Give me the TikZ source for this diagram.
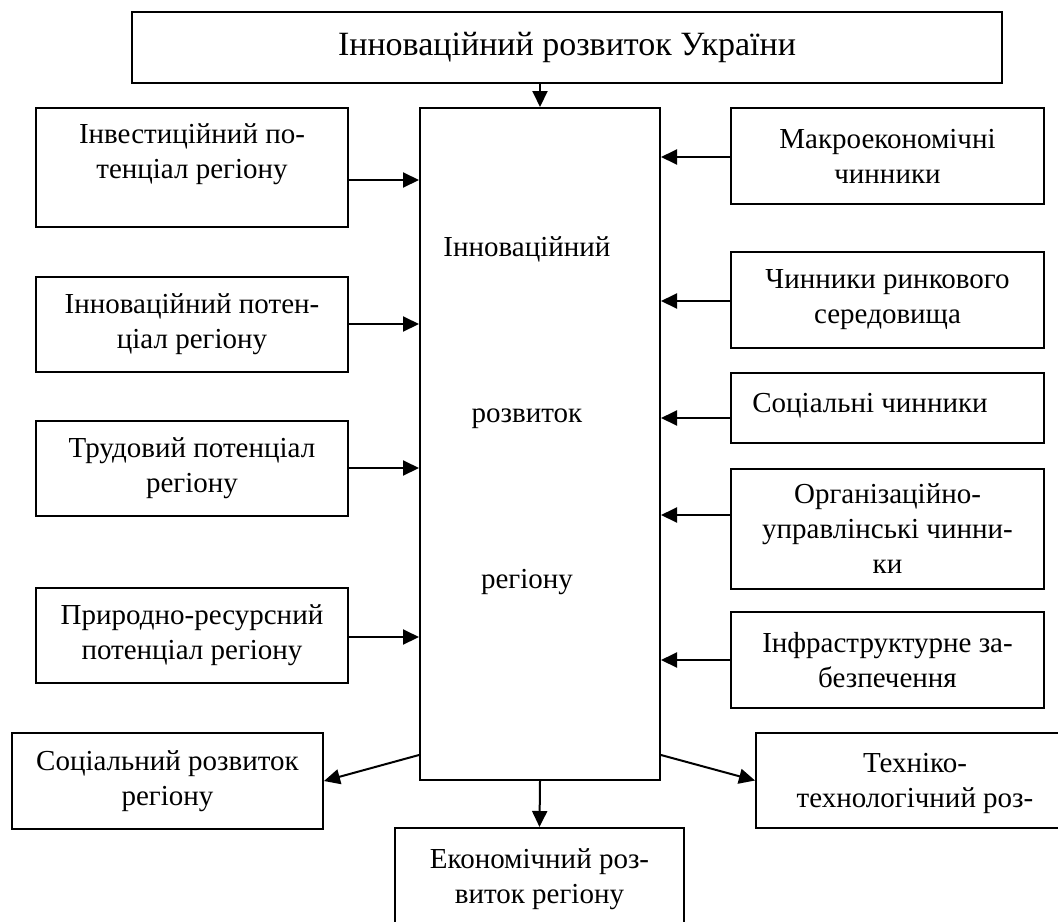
\documentclass[tikz,border=0pt]{standalone}
\usepackage{fontspec}
\setmainfont{Liberation Serif}
\usetikzlibrary{arrows.meta}
\tikzset{
	blok/.style={draw, line width=1pt, align=center, inner sep=0pt},
	arr/.style={-{Triangle[length=8pt,width=7.5pt]}, line width=1pt}
}

\begin{document}
\begin{tikzpicture}[x=0.5pt, y=-0.5pt, font=\fontsize{14.5}{17.5}\selectfont]
	\useasboundingbox (0,0) rectangle (1058,921);
	%
	\node[blok, minimum width=435pt, minimum height=35.5pt, font=\fontsize{17}{20}\selectfont] at (567,47.5) (ukr) {Інноваційний розвиток України};
	\node[blok, minimum width=120pt, minimum height=336pt] at (540,444) (centre) {};
	\node[align=center, font=\fontsize{14.5}{83}\selectfont] at (527,416) (centretxt) {Інноваційний\\розвиток\\регіону};
	%
	%left boxes
	\node[blok, minimum width=156pt, minimum height=59.5pt] at (192,167.5) (invest) {};
	\node[align=center] at (192,154) (investtxt) {Інвестиційний по-\\тенціал регіону};
	\node[blok, minimum width=156pt, minimum height=47.5pt] at (192,324.5) (innov) {Інноваційний потен-\\ціал регіону};
	\node[blok, minimum width=156pt, minimum height=47.5pt] at (192,468.5) (trud) {Трудовий потенціал\\регіону};
	\node[blok, minimum width=156pt, minimum height=47.5pt] at (192,635.5) (pryrod) {Природно-ресурсний\\потенціал регіону};
	%
	%right boxes
	\node[blok, minimum width=156.5pt, minimum height=48pt] at (887.5,156) (makro) {Макроекономічні\\чинники};
	\node[blok, minimum width=156.5pt, minimum height=48pt] at (887.5,300) (rynok) {Чинники ринкового\\середовища};
	\node[blok, minimum width=156.5pt, minimum height=35pt] at (887.5,408) (social) {};
	\node at (870,406) (socialtxt) {Соціальні чинники};
	\node[blok, minimum width=156.5pt, minimum height=60pt] at (887.5,529) (org) {Організаційно-\\управлінські чинни-\\ки};
	\node[blok, minimum width=156.5pt, minimum height=48pt] at (887.5,660) (infra) {Інфраструктурне за-\\безпечення};
	%
	%bottom boxes
	\node[blok, minimum width=155.5pt, minimum height=48pt] at (167.5,781) (socrozv) {Соціальний розвиток\\регіону};
	\node[blok, minimum width=144.5pt, minimum height=51pt] at (539.5,879) (ekon) {Економічний роз-\\виток регіону};
	\node[blok, minimum width=159pt, minimum height=47.5pt, path picture={
		\clip ([yshift=4pt]path picture bounding box.south west) rectangle (path picture bounding box.north east);
		\node[align=center] at ([yshift=-10.5pt]path picture bounding box.center) {Техніко-\\технологічний роз-\\виток регіону};}] at (915,780.5) (tekhn) {};
	%
	\draw[arr] (ukr.south -| centre.north) -- (centre.north);
	\draw[arr] (invest.east |- 0,180) -- (centre.west |- 0,180);
	\draw[arr] (innov.east |- 0,324) -- (centre.west |- 0,324);
	\draw[arr] (trud.east |- 0,468) -- (centre.west |- 0,468);
	\draw[arr] (pryrod.east |- 0,637) -- (centre.west |- 0,637);
	%
	\draw[arr] (makro.west |- 0,157) -- (centre.east |- 0,157);
	\draw[arr] (rynok.west |- 0,301) -- (centre.east |- 0,301);
	\draw[arr] (social.west |- 0,418) -- (centre.east |- 0,418);
	\draw[arr] (org.west |- 0,515) -- (centre.east |- 0,515);
	\draw[arr] (infra.west |- 0,660) -- (centre.east |- 0,660);
	%
	\draw[arr] (centre.west |- 0,755) -- (socrozv.east);
	\draw[arr] (centre.south) -- (ekon.north);
	\draw[arr] (centre.east |- 0,755) -- (tekhn.west);
\end{tikzpicture}
\end{document}
